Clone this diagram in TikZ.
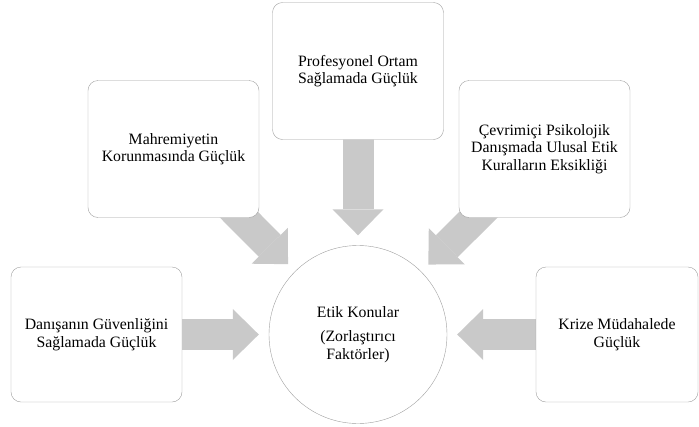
\documentclass[tikz,border=0pt]{standalone}
\usepackage{fontspec}
\setmainfont{Liberation Serif}
\usetikzlibrary{arrows.meta,backgrounds}
\definecolor{framegray}{HTML}{A0A0A0}
\definecolor{arrowgray}{HTML}{C9C9C9}

\begin{document}
\begin{tikzpicture}[
  x=1pt, y=-1pt,
  font=\fontsize{15.8}{17.5}\selectfont,
  topic/.style={
    draw=framegray, fill=white, rectangle, rounded corners=10pt,
    align=center, minimum width=171pt, minimum height=137pt, inner sep=2pt
  },
  core/.style={draw=framegray, fill=white, circle, minimum size=178pt, align=center},
  arrow/.style={arrowgray, line width=31pt,
    -{Triangle[width=51pt, length=26pt, line width=0pt]}, shorten >=10pt}
]

\useasboundingbox (0,0) rectangle (699,426);

\node[topic] (setting) at (358,71) {Profesyonel Ortam\\Sağlamada Güçlük};
\node[topic] (privacy) at (173.5,149) {Mahremiyetin\\Korunmasında Güçlük};
\node[topic] (rules) at (544.5,149) {Çevrimiçi Psikolojik\\Danışmada Ulusal Etik\\Kuralların Eksikliği};
\node[topic, minimum height=135pt] (safety) at (96.5,334.5) {Danışanın Güvenliğini\\Sağlamada Güçlük};
\node[topic, minimum width=162pt, minimum height=135pt] (crisis) at (617,334.5) {Krize Müdahalede\\Güçlük};
\node[core] (ethics) at (358,334.5) {Etik Konular\\[7pt](Zorlaştırıcı\\Faktörler)};

\begin{scope}[on background layer]
\draw[arrow] (setting.center) -- (ethics);
\draw[arrow] (privacy.center) -- (ethics);
\draw[arrow] (rules.center) -- (ethics);
\draw[arrow] (safety.center) -- (ethics);
\draw[arrow] (crisis.center) -- (ethics);
\end{scope}

\end{tikzpicture}
\end{document}
